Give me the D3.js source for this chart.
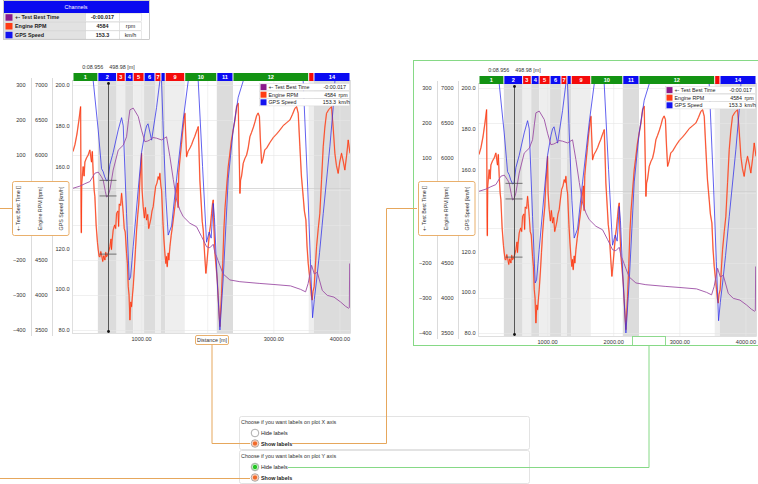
<!DOCTYPE html>
<html><head><meta charset="utf-8">
<script src="https://cdn.jsdelivr.net/npm/d3@7"></script>
<style>
html,body{margin:0;padding:0;background:#fff;}
svg{display:block;font-family:"Liberation Sans",Arial,sans-serif;}
</style></head><body>
<svg id="c" width="758" height="484"></svg>
<script>
// ---- lap sectors (distance in m) ----
const sectorEdges = [-30, 346, 630, 760, 880, 1045, 1210, 1300, 1365, 1660, 2145, 2390, 3535, 3615, 4160];
const sectorNames = ["1","2","3","4","5","6","7","","9","10","11","12","","14"];
const sectorKinds = ["g","b","r","b","r","b","r","b","r","g","b","g","r","b"];

// ---- axis ticks ----
const distTicks = [1000, 2000, 3000, 4000];
const deltaTicks = [300, 200, 100, 0, -100, -200, -300, -400];
const rpmTicks = [7000, 6500, 6000, 5500, 5000, 4500, 4000, 3500];
const speedTicks = [200, 180, 160, 140, 120, 100, 80];

// ---- channels ----
const channelNames = ["+- Test Best Time", "Engine RPM", "GPS Speed"];
const channelUnits = ["", "rpm", "km/h"];
const channelColors = ["#8b1a8b", "#ff3c14", "#1414f0"];
const cursorDist = 498.98;
const cursorTime = "0:08.956";
const cursorLabels = ["-0:00.017", "4584", "153.3"];
const cursorDelta = -17, cursorRpm = 4584, cursorSpeed = 153.3;

// GPS speed [km/h] against distance [m]
const speedData = [
  [-30,214],[100,214],[200,209],[276,202],[351,178],[402,159],[427,157.5],[450,155],[478,153],[499,153.3],
  [528,161],[578,167],[654,178],[705,184],[730,180],[780,137],[820,104.5],[841,106],[881,121],[957,149],
  [1007,167],[1060,177],[1083,180],[1105,181],[1159,173],[1234,189],[1284,202],[1305,206],[1335,178],[1375,145],
  [1410,126.5],[1461,131],[1537,154],[1637,183],[1713,202],[1790,210],[1864,202],[1930,160],[1990,123],[2030,128],
  [2060,125],[2091,142],[2110,135],[2150,105],[2192,80],[2242,105],[2318,154],[2393,178],[2469,194],[2545,202],
  [2700,212],[2900,218],[3100,222],[3300,225],[3420,218],[3452,202],[3520,150],[3560,115],[3594,86],[3620,95],
  [3655,104.5],[3700,118],[3755,137],[3856,170],[3906,189],[3932,202],[4050,210],[4160,214]
];

// delta to best lap [ms] against distance [m]
const deltaData = [
  [-30,5],[74,11],[150,18],[225,24],[301,48],[352,51],[400,38],[427,28],[460,-5],[478,-20],[499,-17],
  [528,0],[578,57],[654,114],[730,128],[780,152],[810,200],[831,229],[881,234],[957,210],[1007,171],
  [1057,138],[1100,140],[1133,143],[1180,150],[1234,148],[1310,143],[1385,152],[1436,95],[1487,30],[1537,-29],
  [1587,-57],[1637,-76],[1738,-95],[1839,-105],[1915,-133],[1965,-152],[1990,-162],[2040,-165],[2091,-155],[2118,-181],
  [2142,-190],[2190,-215],[2242,-240],[2343,-257],[2494,-262],[2797,-267],[3009,-270],[3261,-274],[3413,-284],[3488,-291],
  [3527,-267],[3579,-215],[3620,-240],[3665,-235],[3741,-287],[3816,-301],[3917,-306],[4018,-320],[4090,-332],[4140,-338],
  [4150,-336],[4155,-210]
];

// engine speed [rpm] against distance [m]
const rpmData = [
  [-30,6050],[0,6150],[30,6300],[60,6500],[85,6690],[92,5200],[96,4890],[102,5600],[124,5833],[138,5700],[150,5900],
  [175,5960],[200,6000],[225,6071],[250,5900],[262,6050],[276,5739],[290,5500],[301,5405],[320,5000],[340,4750],[352,4643],
  [365,4550],[377,4547],[390,4620],[405,4560],[420,4480],[435,4560],[453,4500],[465,4610],[478,4547],[499,4584],
  [515,4640],[528,4690],[545,4800],[552,4650],[560,4760],[578,4929],[600,5000],[615,4950],[629,5167],[650,5200],[660,4980],[670,5300],
  [690,5280],[705,5452],[715,5350],[730,5167],[745,4950],[760,4900],[780,4595],[793,4450],[806,4119],[818,4000],
  [831,3643],[845,3900],[856,3833],[870,4000],[881,4119],[900,4400],[915,4650],[932,4929],[950,5150],[965,5300],
  [982,5643],[995,5800],[1007,6024],[1015,5500],[1032,5262],[1050,5100],[1065,5250],[1083,5071],[1100,5150],[1115,4950],
  [1133,5024],[1150,5100],[1165,5200],[1183,5262],[1200,5400],[1220,5550],[1240,5600],[1259,5690],[1275,5650],[1284,5738],
  [1300,5550],[1310,5500],[1330,5050],[1345,4800],[1360,4595],[1375,4450],[1385,4550],[1395,4405],[1410,4600],[1420,4500],
  [1436,4690],[1455,4850],[1470,4950],[1490,5100],[1511,5262],[1530,5450],[1550,5600],[1560,5250],[1570,5750],[1587,5929],[1610,6150],
  [1630,6350],[1650,6500],[1663,6595],[1675,6300],[1688,5976],[1710,6050],[1740,6100],[1765,6150],[1789,6214],[1810,6260],
  [1835,6330],[1855,6380],[1864,6405],[1875,6100],[1889,5643],[1910,5300],[1925,5050],[1940,4929],[1960,4600],[1980,4310],
  [1995,4450],[2016,4690],[2035,4900],[2050,5000],[2066,5167],[2080,5300],[2091,5357],[2100,5000],[2117,4595],[2135,4400],
  [2152,4214],[2170,3900],[2185,3650],[2192,3548],[2205,3800],[2217,4024],[2235,4450],[2252,4929],[2270,5250],[2290,5500],
  [2318,5833],[2340,6000],[2365,6200],[2393,6357],[2420,6500],[2444,6690],[2469,6738],[2480,6200],[2495,5452],[2505,5643],
  [2520,5700],[2545,5881],[2570,5950],[2596,6000],[2620,6100],[2646,6262],[2670,6320],[2700,6400],[2725,6480],[2747,6560],
  [2770,6600],[2790,6550],[2805,6200],[2823,5881],[2845,5950],[2870,6071],[2900,6100],[2950,6180],[3000,6250],[3050,6300],
  [3100,6357],[3150,6420],[3200,6460],[3251,6500],[3290,6580],[3327,6667],[3352,6690],[3377,6595],[3402,6119],[3425,5700],
  [3452,5405],[3470,5200],[3493,5071],[3510,4700],[3528,4452],[3545,4300],[3563,4119],[3575,4000],[3588,3929],[3600,4050],
  [3618,4119],[3635,4400],[3654,4690],[3680,4950],[3704,5167],[3730,5650],[3755,6119],[3780,6400],[3805,6595],[3840,6650],
  [3880,6690],[3905,6400],[3931,6024],[3955,5850],[3981,5738],[4005,5900],[4032,6024],[4060,5900],[4082,5786],[4110,6000],
  [4133,6214],[4160,6024]
];

const kindColor = {g:"#139313", b:"#0b0bf2", r:"#f40b0b"};
const kindShade = {g:null, b:"#dcdcdc", r:"#eeeeee"};
const ORANGE = "#e6a75c", GREEN = "#86d986";

const svg = d3.select("#c");
svg.append("rect").attr("width",758).attr("height",484).attr("fill","#fff");
const defs = svg.append("defs");

// shared scales (chart-local coordinates)
const x = d3.scaleLinear().domain([-30, 4160]).range([73, 350]);
const yDelta = d3.scaleLinear().domain([-400, 300]).range([330, 85]);
const yRpm = d3.scaleLinear().domain([3500, 7000]).range([330, 85]);
const ySpeed = d3.scaleLinear().domain([80, 200]).range([330, 85]);
const PT = 81, PB = 333, PL = 73, PR = 350;
// the axis-title box covers this band of the y axes
const titleBand = [180, 236];
const visible = (scale, ticks) => ticks.filter(t => scale(t) < titleBand[0] || scale(t) > titleBand[1]);

function drawChart(dx, dy, opts) {
  const id = "clip" + dx;
  defs.append("clipPath").attr("id", id).append("rect")
    .attr("x", PL).attr("y", PT).attr("width", PR - PL).attr("height", PB - PT);
  const g = svg.append("g").attr("transform", `translate(${dx},${dy})`)
    .style("font-size", "5.6px").attr("fill", "#333");

  // sector shading
  const sectors = sectorKinds.map((k, i) => ({k, i, a: sectorEdges[i], b: sectorEdges[i+1], name: sectorNames[i]}));
  g.append("g").selectAll("rect").data(sectors.filter(s => kindShade[s.k])).join("rect")
    .attr("x", s => x(s.a)).attr("width", s => x(s.b) - x(s.a))
    .attr("y", PT).attr("height", PB - PT).attr("fill", s => kindShade[s.k]);

  // grid
  const grid = g.append("g");
  grid.selectAll("line.h").data(rpmTicks).join("line").attr("class","h")
    .attr("x1", PL).attr("x2", PR).attr("y1", d => yRpm(d) + .5).attr("y2", d => yRpm(d) + .5)
    .attr("stroke", "#e6e6e6").attr("stroke-width", .6);
  grid.selectAll("line.v").data(distTicks).join("line").attr("class","v")
    .attr("y1", PT).attr("y2", PB).attr("x1", d => x(d) + .5).attr("x2", d => x(d) + .5)
    .attr("stroke", "#e8e8e8").attr("stroke-width", .6);
  grid.append("line").attr("x1", PL).attr("x2", PR)
    .attr("y1", yDelta(0) - 1.5).attr("y2", yDelta(0) - 1.5).attr("stroke", "#cfcfcf").attr("stroke-width", .8);

  // plot frame
  g.append("rect").attr("x", PL - .5).attr("y", PT - .5).attr("width", PR - PL + 1).attr("height", PB - PT + 1)
    .attr("fill", "none").attr("stroke", "#d2d2d2").attr("stroke-width", .7);

  // traces
  const lines = g.append("g").attr("clip-path", `url(#${id})`);
  const lRpm = d3.line().x(d => x(d[0])).y(d => yRpm(d[1]));
  const lSpd = d3.line().x(d => x(d[0])).y(d => ySpeed(d[1]));
  const lDel = d3.line().x(d => x(d[0])).y(d => yDelta(d[1]));
  lines.append("path").attr("d", lRpm(rpmData)).attr("fill","none")
    .attr("stroke", "#f29a82").attr("stroke-width", 1.5).attr("stroke-opacity", .75).attr("stroke-linejoin","round");
  lines.append("path").attr("d", lRpm(rpmData)).attr("fill","none")
    .attr("stroke", "#ff2800").attr("stroke-width", .7);
  lines.append("path").attr("d", lSpd(speedData)).attr("fill","none")
    .attr("stroke", "#3030ea").attr("stroke-width", .9).attr("stroke-opacity", .85);
  lines.append("path").attr("d", lDel(deltaData)).attr("fill","none")
    .attr("stroke", "#9c4ea5").attr("stroke-width", .9);

  // sector bar
  const bar = g.append("g");
  bar.selectAll("rect").data(sectors).join("rect")
    .attr("x", s => x(s.a) + .5).attr("width", s => Math.max(1, x(s.b) - x(s.a) - 1))
    .attr("y", 73).attr("height", 8).attr("fill", s => kindColor[s.k]);
  bar.selectAll("text").data(sectors.filter(s => s.name)).join("text")
    .attr("x", s => (x(s.a) + x(s.b)) / 2).attr("y", 79.2).attr("text-anchor", "middle")
    .attr("fill", "#fff").style("font-weight", "bold").style("font-size", "5.6px").text(s => s.name);

  // cursor
  const cx = Math.round(x(cursorDist)) + .5;
  g.append("text").attr("x", cx).attr("y", 69).attr("text-anchor","middle").style("font-size","5.4px")
    .attr("fill","#333").attr("xml:space","preserve").text(`${cursorTime}    ${cursorDist.toFixed(2)} [m]`);
  g.append("line").attr("x1", cx).attr("x2", cx).attr("y1", 83).attr("y2", 332)
    .attr("stroke", "#333").attr("stroke-width", .8);
  g.selectAll("circle.cd").data([83.5, 331.5]).join("circle").attr("class","cd")
    .attr("cx", cx).attr("cy", d => d).attr("r", 1.4).attr("fill", "#111");
  g.selectAll("line.cm").data([ySpeed(cursorSpeed), yDelta(cursorDelta), yRpm(cursorRpm)]).join("line").attr("class","cm")
    .attr("x1", cx - 9).attr("x2", cx + 8).attr("y1", d => d).attr("y2", d => d)
    .attr("stroke", "#555").attr("stroke-width", .8);

  // in-plot legend
  const lg = g.append("g");
  channelNames.forEach((n, i) => {
    const yy = 83.5 + i * 7.6;
    lg.append("rect").attr("x", 259.5).attr("y", yy).attr("width", 90).attr("height", 7.2)
      .attr("fill", "#fff").attr("stroke", "#d6d6d6").attr("stroke-width", .5);
    lg.append("rect").attr("x", 260.5).attr("y", yy + .6).attr("width", 6).attr("height", 6).attr("fill", channelColors[i]);
    lg.append("text").attr("x", 268.5).attr("y", yy + 5.6).style("font-size","5.3px").attr("fill","#222").text(n);
    lg.append("text").attr("x", i === 0 ? 346 : 336).attr("y", yy + 5.6).attr("text-anchor","end")
      .style("font-size","5.3px").attr("fill","#222").text(cursorLabels[i]);
    if (channelUnits[i]) lg.append("text").attr("x", 338.5).attr("y", yy + 5.6)
      .style("font-size","5.3px").attr("fill","#222").text(channelUnits[i]);
  });

  // y axes (three columns)
  const axStyle = sel => { sel.select(".domain").remove(); sel.selectAll("text").attr("fill","#333").style("font-size","5.6px"); };
  g.append("g").attr("transform","translate(25.5,0)")
    .call(d3.axisLeft(yDelta).tickValues(visible(yDelta, deltaTicks)).tickSize(0).tickPadding(0)).call(axStyle);
  g.append("g").attr("transform","translate(47.5,0)")
    .call(d3.axisLeft(yRpm).tickValues(visible(yRpm, rpmTicks)).tickSize(0).tickPadding(0).tickFormat(d3.format("d"))).call(axStyle);
  g.append("g").attr("transform","translate(69.5,0)")
    .call(d3.axisLeft(ySpeed).tickValues(visible(ySpeed, speedTicks)).tickSize(0).tickPadding(0).tickFormat(d3.format(".1f"))).call(axStyle);
  g.selectAll("line.sep").data([31.5, 52.5]).join("line").attr("class","sep")
    .attr("x1", d => d).attr("x2", d => d).attr("y1", 78).attr("y2", 336)
    .attr("stroke", "#cccccc").attr("stroke-width", .7);

  // y axis titles
  g.append("rect").attr("x", 12.5).attr("y", 181.5 - dy).attr("width", 56.5).attr("height", 54).attr("rx", 2)
    .attr("fill", "#fff").attr("stroke", ORANGE).attr("stroke-width", .9);
  [["+- Test Best Time []", 19.5], ["Engine RPM [rpm]", 41.5], ["GPS Speed [km/h]", 62.5]].forEach(([t, tx]) => {
    g.append("text").attr("transform", `translate(${tx},${208.5 - dy}) rotate(-90)`).attr("text-anchor","middle")
      .style("font-size","5.3px").attr("fill","#333").text(t);
  });

  // x axis (the title box sits where the 2000 label would be)
  const xt = opts.xTitle ? distTicks.filter(d => d !== 2000) : distTicks;
  g.append("g").attr("transform","translate(0,337.5)")
    .call(d3.axisBottom(x).tickValues(xt).tickSize(0).tickPadding(0).tickFormat(d3.format(".2f")))
    .call(axStyle);
  if (opts.xTitle) {
    g.append("rect").attr("x", 195.5).attr("y", 335.5).attr("width", 33).attr("height", 9).attr("rx", 1.5)
      .attr("fill", "#fff").attr("stroke", ORANGE).attr("stroke-width", .9);
    g.append("text").attr("x", 212).attr("y", 341.7).attr("text-anchor","middle")
      .style("font-size","5.4px").attr("fill","#333").text("Distance [m]");
  }
  return g;
}

// right-hand chart frame
svg.append("rect").attr("x", 413.5).attr("y", 60.5).attr("width", 360).attr("height", 285)
  .attr("fill", "none").attr("stroke", GREEN).attr("stroke-width", 1);

drawChart(0, 0, {xTitle: true});
drawChart(406, 3, {xTitle: false});

// empty x title slot on the right chart
svg.append("rect").attr("x", 632.5).attr("y", 336.5).attr("width", 33).attr("height", 9)
  .attr("fill", "none").attr("stroke", GREEN).attr("stroke-width", .9);

// channels table
const tb = svg.append("g").style("font-size","5.4px");
tb.append("rect").attr("x", 3.5).attr("y", .5).attr("width", 146).attr("height", 39).attr("fill","#fff").attr("stroke","#aaa").attr("stroke-width",.6);
tb.append("rect").attr("x", 4).attr("y", 1).attr("width", 145).attr("height", 12).attr("fill", "#0a0af0");
tb.append("text").attr("x", 76).attr("y", 9).attr("text-anchor","middle").attr("fill","#fff").text("Channels");
channelNames.forEach((n, i) => {
  const yy = 13 + i * 8.8;
  tb.append("rect").attr("x", 4.5).attr("y", yy + .3).attr("width", 81).attr("height", 8.2).attr("fill", "#e2e2e2").attr("stroke","#c8c8c8").attr("stroke-width",.4);
  tb.append("rect").attr("x", 85.5).attr("y", yy + .3).attr("width", 34).attr("height", 8.2).attr("fill", "#fff").attr("stroke","#c8c8c8").attr("stroke-width",.4);
  tb.append("rect").attr("x", 119.5).attr("y", yy + .3).attr("width", 22).attr("height", 8.2).attr("fill", "#fff").attr("stroke","#c8c8c8").attr("stroke-width",.4);
  tb.append("rect").attr("x", 5.5).attr("y", yy + 1.2).attr("width", 7).attr("height", 6.5).attr("fill", channelColors[i]);
  tb.append("text").attr("x", 15).attr("y", yy + 6.4).attr("fill","#222").style("font-weight","bold").text(n);
  tb.append("text").attr("x", 102.5).attr("y", yy + 6.4).attr("text-anchor","middle").attr("fill","#222").style("font-weight","bold").text(cursorLabels[i]);
  tb.append("text").attr("x", 130.5).attr("y", yy + 6.4).attr("text-anchor","middle").attr("fill","#222").text(channelUnits[i]);
});

// option panels
function panel(y0, title, hideSel) {
  const p = svg.append("g").style("font-size","5.4px");
  p.append("rect").attr("x", 239.5).attr("y", y0 + .5).attr("width", 290).attr("height", 33).attr("rx", 2)
    .attr("fill", "#fff").attr("stroke", "#dcdcdc").attr("stroke-width", .8);
  p.append("text").attr("x", 241).attr("y", y0 + 8).attr("fill","#333").text(title);
  const rows = [["Hide labels", hideSel ? "#22c422" : null, y0 + 17], ["Show labels", "#f06a2a", y0 + 27.5]];
  rows.forEach(([t, col, ry], i) => {
    p.append("circle").attr("cx", 255).attr("cy", ry).attr("r", 3.8).attr("fill", "#fff").attr("stroke", "#8a8a8a").attr("stroke-width", .7);
    if (col) {
      p.append("circle").attr("cx", 255).attr("cy", ry).attr("r", 3).attr("fill", "none").attr("stroke", col).attr("stroke-opacity", .35).attr("stroke-width", 1);
      p.append("circle").attr("cx", 255).attr("cy", ry).attr("r", 2.2).attr("fill", col);
    }
    p.append("text").attr("x", 261).attr("y", ry + 2).attr("fill","#222").style("font-weight", i === 1 ? "bold" : "normal").text(t);
  });
}
panel(416, "Choose if you want labels on plot X axis", false);
panel(450, "Choose if you want labels on plot Y axis", true);

// connectors between the axis titles and the option panels
const conn = svg.append("g").attr("fill","none").attr("stroke-width", 1);
conn.append("path").attr("d", "M12.5,208.5H0").attr("stroke", ORANGE);
conn.append("path").attr("d", "M417,208.5H386.5V443.5H292").attr("stroke", ORANGE);
conn.append("path").attr("d", "M212,344.5V443.5H250").attr("stroke", ORANGE);
conn.append("path").attr("d", "M0,478.5H250").attr("stroke", ORANGE);
conn.append("path").attr("d", "M649,345.5V467.5H288").attr("stroke", GREEN);
</script></body></html>
